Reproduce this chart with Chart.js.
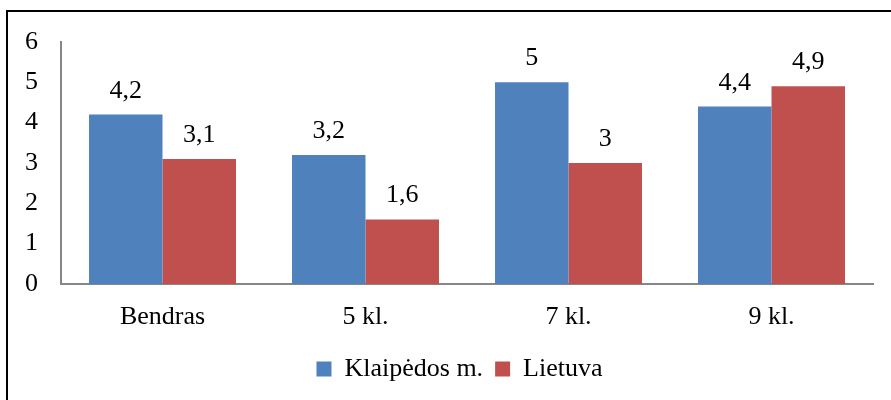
<!DOCTYPE html>
<html>
<head>
<meta charset="utf-8">
<script src="https://cdn.jsdelivr.net/npm/chart.js@4"></script>
<style>
    html, body { margin: 0; padding: 0; background: #fff; }
    #wrap { position: relative; width: 891px; height: 400px; }
</style>
</head>
<body>
<div id="wrap"><canvas id="chart" width="891" height="400"></canvas></div>
<script>
// Data
const categories = ['Bendras', '5 kl.', '7 kl.', '9 kl.'];
const klaipedaValues = [4.2, 3.2, 5, 4.4];
const lietuvaValues = [3.1, 1.6, 3, 4.9];
const yTicks = [0, 1, 2, 3, 4, 5, 6];

const serif = '"Liberation Serif", "Times New Roman", serif';
const fontSize = 26;

// Value labels above bars, comma as decimal separator
const valueLabels = {
    id: 'valueLabels',
    afterDatasetsDraw(chart) {
        const ctx = chart.ctx;
        ctx.save();
        ctx.font = fontSize + 'px ' + serif;
        ctx.fillStyle = '#000';
        ctx.textAlign = 'center';
        ctx.textBaseline = 'alphabetic';
        chart.data.datasets.forEach(function(ds, i) {
            chart.getDatasetMeta(i).data.forEach(function(bar, j) {
                const txt = String(ds.data[j]).replace('.', ',');
                ctx.fillText(txt, bar.x, bar.y - 17);
            });
        });
        ctx.restore();
    }
};

// Frame lines on top and left, like the cropped source picture
const frame = {
    id: 'frame',
    beforeDraw(chart) {
        const ctx = chart.ctx;
        ctx.save();
        ctx.fillStyle = '#fff';
        ctx.fillRect(0, 0, chart.width, chart.height);
        ctx.strokeStyle = '#000';
        ctx.lineWidth = 2;
        ctx.beginPath();
        ctx.moveTo(7, chart.height);
        ctx.lineTo(7, 11);
        ctx.lineTo(chart.width, 11);
        ctx.stroke();
        ctx.restore();
    }
};

// nudge the legend to the right so it sits where the original one does
const legendShift = {
    id: 'legendShift',
    afterLayout(chart) {
        if (chart.legend) {
            chart.legend.left += 23;
            chart.legend.right += 23;
        }
    }
};

new Chart(document.getElementById('chart'), {
    type: 'bar',
    data: {
        labels: categories,
        datasets: [
            {
                label: 'Klaipėdos m.',
                data: klaipedaValues,
                backgroundColor: '#4F81BD',
                borderWidth: 0,
                barPercentage: 1,
                categoryPercentage: 0.724,
            },
            {
                label: 'Lietuva',
                data: lietuvaValues,
                backgroundColor: '#C0504D',
                borderWidth: 0,
                barPercentage: 1,
                categoryPercentage: 0.724,
            },
        ],
    },
    options: {
        responsive: false,
        animation: false,
        layout: {
            padding: { top: 42, right: 18, left: 0, bottom: 8 },
        },
        scales: {
            x: {
                grid: { display: false, drawTicks: false },
                border: { color: '#868686', width: 2 },
                ticks: {
                    color: '#000',
                    font: { family: serif, size: fontSize },
                    padding: 18,
                },
                afterFit(scale) { scale.height = 60; },
            },
            y: {
                min: 0,
                max: 6,
                grid: { display: false, drawTicks: false },
                border: { color: '#868686', width: 2 },
                afterBuildTicks(scale) {
                    scale.ticks = yTicks.map(function(v) { return { value: v }; });
                },
                ticks: {
                    color: '#000',
                    font: { family: serif, size: fontSize },
                    padding: 23,
                },
                afterFit(scale) { scale.width = 61; },
            },
        },
        plugins: {
            legend: {
                position: 'bottom',
                labels: {
                    color: '#000',
                    font: { family: serif, size: fontSize },
                    boxWidth: 15,
                    boxHeight: 15,
                    padding: 12,
                },
            },
            tooltip: { enabled: false },
        },
    },
    plugins: [frame, valueLabels, legendShift],
});
</script>
</body>
</html>
